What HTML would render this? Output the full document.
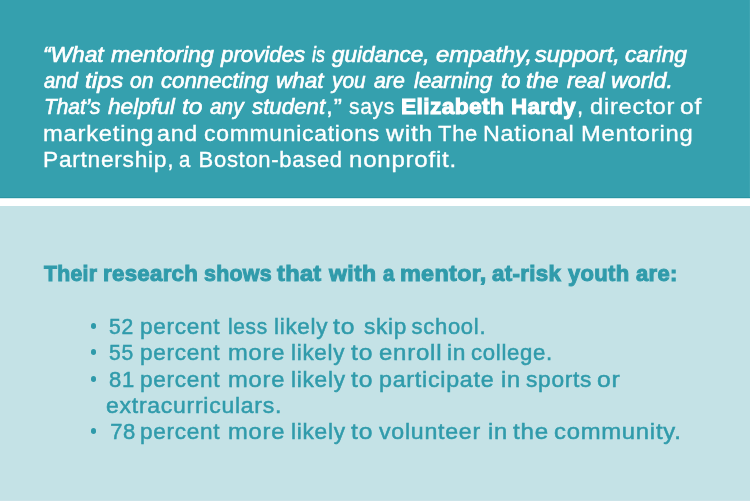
<!DOCTYPE html>
<html>
<head>
<meta charset="utf-8">
<style>
html,body{margin:0;padding:0;}
body{width:750px;height:501px;overflow:hidden;position:relative;background:#c4e2e6;font-family:"Liberation Sans",sans-serif;}
#top{position:absolute;left:0;top:0;width:750px;height:197px;background:#35a0ae;border-bottom:1px solid #2a95a3;}
#stripe{position:absolute;left:0;top:198px;width:750px;height:8px;background:linear-gradient(#d2ebee 0,#d2ebee 1px,#ffffff 1px);}
#edge{position:absolute;left:749px;top:0;width:1px;height:197px;background:#3ea5b2;}
#bot{position:absolute;left:0;top:206px;width:750px;height:294px;background:#c4e2e6;border-bottom:1px solid #cae3e8;}
.l{position:absolute;left:0;width:750px;height:22px;white-space:nowrap;line-height:1;font-size:22px;will-change:transform;filter:blur(0.3px);}
.l span{position:absolute;top:0;white-space:nowrap;transform-origin:0 0;}
.t{color:#ffffff;-webkit-text-stroke:0.35px #ffffff;}
.b{color:#309bab;-webkit-text-stroke:0.5px #309bab;}
.i{font-style:italic;-webkit-text-stroke-width:0.65px;}
.w{font-weight:bold;-webkit-text-stroke-width:1px;}
.dot{position:absolute;width:5.6px;height:6.2px;border-radius:50%;background:#2e9aaa;}
</style>
</head>
<body>
<div id="top"></div>
<div id="edge"></div>
<div id="stripe"></div>
<div id="bot"></div>
<div class="l t" id="t1" style="top:44px"><span id="t1_0" class="i" style="left:42.56px;letter-spacing:0.00px;transform:scaleX(1.0340)">“What</span><span id="t1_1" class="i" style="left:111.00px;letter-spacing:0.00px;transform:scaleX(1.0510)">mentoring</span><span id="t1_2" class="i" style="left:221.01px;letter-spacing:0.00px;transform:scaleX(1.0119)">provides</span><span id="t1_3" class="i" style="left:312.47px;letter-spacing:0.00px;transform:scaleX(0.8066)">is</span><span id="t1_4" class="i" style="left:332.41px;letter-spacing:0.00px;transform:scaleX(1.0212)">guidance,</span><span id="t1_5" class="i" style="left:436.00px;letter-spacing:0.00px;transform:scaleX(1.0806)">empathy,</span><span id="t1_6" class="i" style="left:535.00px;letter-spacing:0.00px;transform:scaleX(1.0649)">support,</span><span id="t1_7" class="i" style="left:625.00px;letter-spacing:0.00px;transform:scaleX(1.0333)">caring</span></div>
<div class="l t" id="t2" style="top:70px"><span id="t2_0" class="i" style="left:43.62px;letter-spacing:0.00px;transform:scaleX(0.9194)">and</span><span id="t2_1" class="i" style="left:85.32px;letter-spacing:0.00px;transform:scaleX(1.1189)">tips</span><span id="t2_2" class="i" style="left:130.00px;letter-spacing:0.00px;transform:scaleX(0.9583)">on</span><span id="t2_3" class="i" style="left:161.00px;letter-spacing:0.00px;transform:scaleX(1.0093)">connecting</span><span id="t2_4" class="i" style="left:275.78px;letter-spacing:0.00px;transform:scaleX(1.0214)">what</span><span id="t2_5" class="i" style="left:332.32px;letter-spacing:0.00px;transform:scaleX(0.9464)">you</span><span id="t2_6" class="i" style="left:374.40px;letter-spacing:0.00px;transform:scaleX(0.9683)">are</span><span id="t2_7" class="i" style="left:414.00px;letter-spacing:0.00px">learning</span><span id="t2_8" class="i" style="left:500.94px;letter-spacing:0.00px;transform:scaleX(1.0588)">to</span><span id="t2_9" class="i" style="left:525.93px;letter-spacing:0.00px;transform:scaleX(1.0690)">the</span><span id="t2_10" class="i" style="left:567.00px;letter-spacing:0.00px;transform:scaleX(1.0263)">real</span><span id="t2_11" class="i" style="left:611.37px;letter-spacing:0.00px;transform:scaleX(1.0537)">world.</span></div>
<div class="l t" id="t3" style="top:96px"><span id="t3_0" class="i" style="left:44.09px;letter-spacing:0.00px;transform:scaleX(0.9477)">That’s</span><span id="t3_1" class="i" style="left:108.00px;letter-spacing:0.00px;transform:scaleX(1.0303)">helpful</span><span id="t3_2" class="i" style="left:181.88px;letter-spacing:0.00px;transform:scaleX(1.1200)">to</span><span id="t3_3" class="i" style="left:210.00px;letter-spacing:0.00px;transform:scaleX(0.9459)">any</span><span id="t3_4" class="i" style="left:252.00px;letter-spacing:0.00px;transform:scaleX(1.0137)">student</span><span id="t3_5" style="left:325.76px;letter-spacing:0.70px;transform:scaleX(1.1200)">,”</span><span id="t3_6" style="left:349.02px;letter-spacing:0.70px;transform:scaleX(0.9570)">says</span><span id="t3_7" class="w" style="left:400.96px;letter-spacing:0.30px;transform:scaleX(1.0412)">Elizabeth</span><span id="t3_8" class="w" style="left:510.98px;letter-spacing:0.30px;transform:scaleX(1.0159)">Hardy</span><span id="t3_9" style="left:577.00px;letter-spacing:0.70px">,</span><span id="t3_10" style="left:589.92px;letter-spacing:0.70px;transform:scaleX(1.0779)">director</span><span id="t3_11" style="left:679.87px;letter-spacing:0.70px;transform:scaleX(1.1200)">of</span></div>
<div class="l t" id="t4" style="top:123px"><span id="t4_0" style="left:42.92px;letter-spacing:0.70px;transform:scaleX(1.0800)">marketing</span><span id="t4_1" style="left:156.94px;letter-spacing:0.70px;transform:scaleX(1.0556)">and</span><span id="t4_2" style="left:203.96px;letter-spacing:0.70px;transform:scaleX(1.0419)">communications</span><span id="t4_3" style="left:386.00px;letter-spacing:0.70px;transform:scaleX(1.1250)">with</span><span id="t4_4" style="left:438.00px;letter-spacing:0.70px">The</span><span id="t4_5" style="left:482.87px;letter-spacing:0.70px;transform:scaleX(1.0603)">National</span><span id="t4_6" style="left:580.84px;letter-spacing:0.70px;transform:scaleX(1.0793)">Mentoring</span></div>
<div class="l t" id="t5" style="top:149px"><span id="t5_0" style="left:43.34px;letter-spacing:0.70px;transform:scaleX(1.0327)">Partnership,</span><span id="t5_1" style="left:179.08px;letter-spacing:0.70px;transform:scaleX(0.9300)">a</span><span id="t5_2" style="left:198.60px;letter-spacing:0.70px">Boston-based</span><span id="t5_3" style="left:348.91px;letter-spacing:0.70px;transform:scaleX(1.0938)">nonprofit.</span></div>
<div class="l b" id="h1" style="top:263px"><span id="h1_0" class="w" style="left:43.57px;letter-spacing:0.30px;transform:scaleX(0.9645)">Their</span><span id="h1_1" class="w" style="left:102.99px;letter-spacing:0.30px;transform:scaleX(1.0109)">research</span><span id="h1_2" class="w" style="left:203.61px;letter-spacing:0.30px;transform:scaleX(0.9712)">shows</span><span id="h1_3" class="w" style="left:277.00px;letter-spacing:0.30px;transform:scaleX(1.0720)">that</span><span id="h1_4" class="w" style="left:329.01px;letter-spacing:0.30px;transform:scaleX(1.0455)">with</span><span id="h1_5" class="w" style="left:383.00px;letter-spacing:0.30px;transform:scaleX(0.9300)">a</span><span id="h1_6" class="w" style="left:399.94px;letter-spacing:0.30px;transform:scaleX(1.0627)">mentor,</span><span id="h1_7" class="w" style="left:492.00px;letter-spacing:0.30px;transform:scaleX(1.0147)">at-risk</span><span id="h1_8" class="w" style="left:567.59px;letter-spacing:0.30px;transform:scaleX(1.0002)">youth</span><span id="h1_9" class="w" style="left:636.00px;letter-spacing:0.30px;transform:scaleX(1.0003)">are:</span></div>
<div class="l b" id="b1" style="top:316px"><span id="b1_0" style="left:109.04px;letter-spacing:0.70px;transform:scaleX(0.9583)">52</span><span id="b1_1" style="left:139.97px;letter-spacing:0.70px;transform:scaleX(1.0260)">percent</span><span id="b1_2" style="left:228.05px;letter-spacing:0.70px;transform:scaleX(0.9500)">less</span><span id="b1_3" style="left:273.98px;letter-spacing:0.70px;transform:scaleX(1.0192)">likely</span><span id="b1_4" style="left:333.00px;letter-spacing:0.70px;transform:scaleX(1.1200)">to</span><span id="b1_5" style="left:363.58px;letter-spacing:0.70px;transform:scaleX(1.0254)">skip</span><span id="b1_6" style="left:411.60px;letter-spacing:0.70px">school.</span></div>
<div class="l b" id="b2" style="top:342px"><span id="b2_0" style="left:109.04px;letter-spacing:0.70px;transform:scaleX(0.9583)">55</span><span id="b2_1" style="left:139.97px;letter-spacing:0.70px;transform:scaleX(1.0260)">percent</span><span id="b2_2" style="left:227.92px;letter-spacing:0.70px;transform:scaleX(1.0788)">more</span><span id="b2_3" style="left:290.98px;letter-spacing:0.70px;transform:scaleX(1.0192)">likely</span><span id="b2_4" style="left:351.00px;letter-spacing:0.70px;transform:scaleX(1.1200)">to</span><span id="b2_5" style="left:378.91px;letter-spacing:0.70px;transform:scaleX(1.0909)">enroll</span><span id="b2_6" style="left:446.97px;letter-spacing:0.70px;transform:scaleX(1.0331)">in</span><span id="b2_7" style="left:470.99px;letter-spacing:0.70px;transform:scaleX(1.0064)">college.</span></div>
<div class="l b" id="b3" style="top:369px"><span id="b3_0" style="left:109.00px;letter-spacing:0.70px">81</span><span id="b3_1" style="left:139.97px;letter-spacing:0.70px;transform:scaleX(1.0260)">percent</span><span id="b3_2" style="left:227.92px;letter-spacing:0.70px;transform:scaleX(1.0788)">more</span><span id="b3_3" style="left:290.94px;letter-spacing:0.70px;transform:scaleX(1.0298)">likely</span><span id="b3_4" style="left:351.00px;letter-spacing:0.70px;transform:scaleX(1.1200)">to</span><span id="b3_5" style="left:378.94px;letter-spacing:0.70px;transform:scaleX(1.0561)">participate</span><span id="b3_6" style="left:500.60px;letter-spacing:0.70px;transform:scaleX(1.0718)">in</span><span id="b3_7" style="left:526.37px;letter-spacing:0.70px;transform:scaleX(1.0324)">sports</span><span id="b3_8" style="left:596.88px;letter-spacing:0.70px;transform:scaleX(1.1200)">or</span></div>
<div class="l b" id="b4" style="top:395px"><span id="b4_0" style="left:105.96px;letter-spacing:0.70px;transform:scaleX(1.0454)">extracurriculars.</span></div>
<div class="l b" id="b5" style="top:421px"><span id="b5_0" style="left:110.20px;letter-spacing:0.70px">78</span><span id="b5_1" style="left:139.97px;letter-spacing:0.70px;transform:scaleX(1.0260)">percent</span><span id="b5_2" style="left:227.92px;letter-spacing:0.70px;transform:scaleX(1.0788)">more</span><span id="b5_3" style="left:290.94px;letter-spacing:0.70px;transform:scaleX(1.0298)">likely</span><span id="b5_4" style="left:351.00px;letter-spacing:0.70px;transform:scaleX(1.1200)">to</span><span id="b5_5" style="left:379.00px;letter-spacing:0.70px;transform:scaleX(1.0521)">volunteer</span><span id="b5_6" style="left:488.10px;letter-spacing:0.70px;transform:scaleX(1.0756)">in</span><span id="b5_7" style="left:513.00px;letter-spacing:0.70px;transform:scaleX(1.0968)">the</span><span id="b5_8" style="left:553.93px;letter-spacing:0.70px;transform:scaleX(1.0826)">community.</span></div>
<div class="dot" style="left:90.7px;top:323px"></div>
<div class="dot" style="left:90.7px;top:349px"></div>
<div class="dot" style="left:90.7px;top:375.5px"></div>
<div class="dot" style="left:90.7px;top:428px"></div>
</body>
</html>
